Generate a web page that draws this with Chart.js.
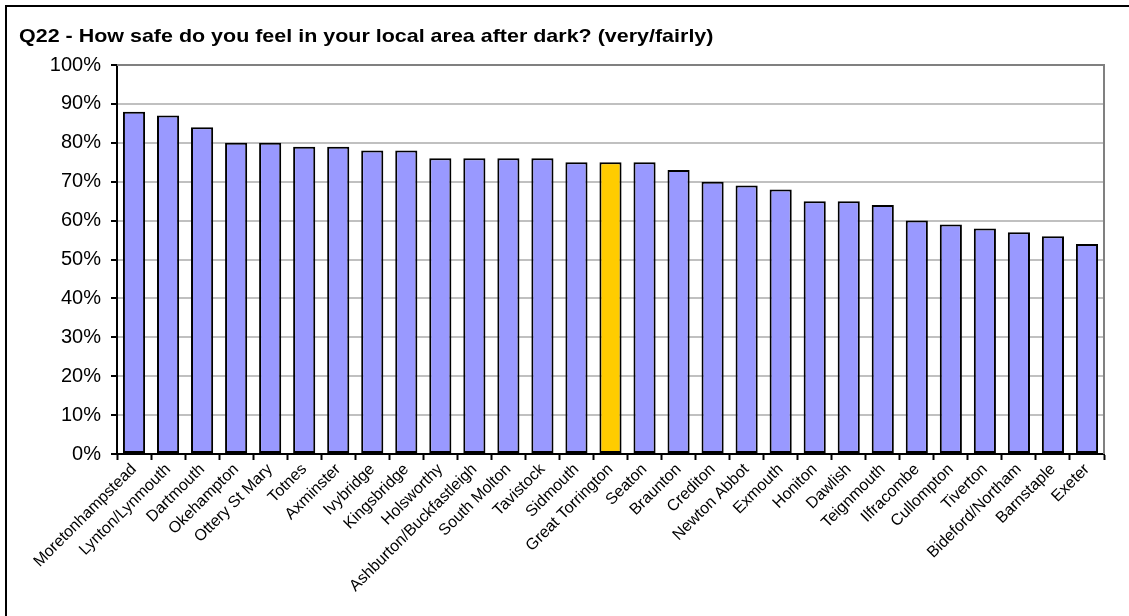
<!DOCTYPE html>
<html lang="en">
<head>
<meta charset="UTF-8" />
<title>Q22 - How safe do you feel</title>
<script src="https://cdn.jsdelivr.net/npm/chart.js"></script>
<style>
  html, body { margin: 0; padding: 0; background: #fff; }
  #wrap { width: 1129px; height: 616px; position: relative; }
</style>
</head>
<body>
<div id="wrap"><canvas id="chartQ22"></canvas></div>
<script>
const chartTitle = "Q22 - How safe do you feel in your local area after dark? (very/fairly)";

const towns = [
  "Moretonhampstead", "Lynton/Lynmouth", "Dartmouth", "Okehampton", "Ottery St Mary",
  "Totnes", "Axminster", "Ivybridge", "Kingsbridge", "Holsworthy",
  "Ashburton/Buckfastleigh", "South Molton", "Tavistock", "Sidmouth", "Great Torrington",
  "Seaton", "Braunton", "Crediton", "Newton Abbot", "Exmouth",
  "Honiton", "Dawlish", "Teignmouth", "Ilfracombe", "Cullompton",
  "Tiverton", "Bideford/Northam", "Barnstaple", "Exeter"
];

const safePct = [
  88, 87, 84, 80, 80,
  79, 79, 78, 78, 76,
  76, 76, 76, 75, 75,
  75, 73, 70, 69, 68,
  65, 65, 64, 60, 59,
  58, 57, 56, 54
];

const highlightTown = "Great Torrington";
const yTicks = [0, 10, 20, 30, 40, 50, 60, 70, 80, 90, 100];

const barColours = towns.map(t => t === highlightTown ? "#FFCC00" : "#9999FF");

// frame, plot border and title drawn by hand
const framePlugin = {
  id: "frame",
  afterDraw(chart) {
    const ctx = chart.ctx;
    const a = chart.chartArea;
    ctx.save();
    ctx.strokeStyle = "#808080";
    ctx.lineWidth = 2;
    ctx.beginPath();
    ctx.moveTo(a.left, a.top);
    ctx.lineTo(a.right, a.top);
    ctx.lineTo(a.right, a.bottom);
    ctx.stroke();

    ctx.strokeStyle = "#000";
    ctx.lineWidth = 2;
    ctx.beginPath();
    ctx.moveTo(6, 616);
    ctx.lineTo(6, 6);
    ctx.lineTo(1129, 6);
    ctx.stroke();

    // title is a bit wide in the original, stretch it sideways
    ctx.translate(19, 37);
    ctx.scale(1.13, 1);
    ctx.fillStyle = "#000";
    ctx.font = "bold 19px 'Liberation Sans', Arial, sans-serif";
    ctx.textBaseline = "middle";
    ctx.textAlign = "left";
    ctx.fillText(chartTitle, 0, 0);
    ctx.restore();
  }
};

new Chart(document.getElementById("chartQ22"), {
  type: "bar",
  data: {
    labels: towns,
    datasets: [{
      data: safePct,
      backgroundColor: barColours,
      borderColor: "#000",
      borderWidth: 2,
      borderSkipped: false,
      barPercentage: 0.65,
      categoryPercentage: 1.0
    }]
  },
  options: {
    responsive: true,
    maintainAspectRatio: false,
    animation: false,
    layout: { padding: { top: 65, right: 25, left: 0, bottom: 12 } },
    plugins: {
      legend: { display: false },
      title: { display: false },
      tooltip: { enabled: false }
    },
    scales: {
      x: {
        afterFit(scale) { scale.height = 150; },
        grid: { drawOnChartArea: false, drawTicks: true, tickLength: 6, tickColor: "#000", tickWidth: 2, offset: true },
        border: { color: "#000", width: 2 },
        ticks: {
          color: "#000",
          font: { family: "'Liberation Sans', Arial, sans-serif", size: 16 },
          minRotation: 45,
          maxRotation: 45,
          autoSkip: false,
          padding: 0
        }
      },
      y: {
        min: 0,
        max: 100,
        afterFit(scale) { scale.width = 117; },
        afterBuildTicks(scale) { scale.ticks = yTicks.map(v => ({ value: v })); },
        grid: { color: "#C0C0C0", lineWidth: 2, tickColor: "#000", tickLength: 6, tickWidth: 2 },
        border: { color: "#000", width: 2 },
        ticks: {
          color: "#000",
          font: { family: "'Liberation Sans', Arial, sans-serif", size: 20 },
          padding: 10,
          callback: v => v + "%"
        }
      }
    }
  },
  plugins: [framePlugin]
});
</script>
</body>
</html>
